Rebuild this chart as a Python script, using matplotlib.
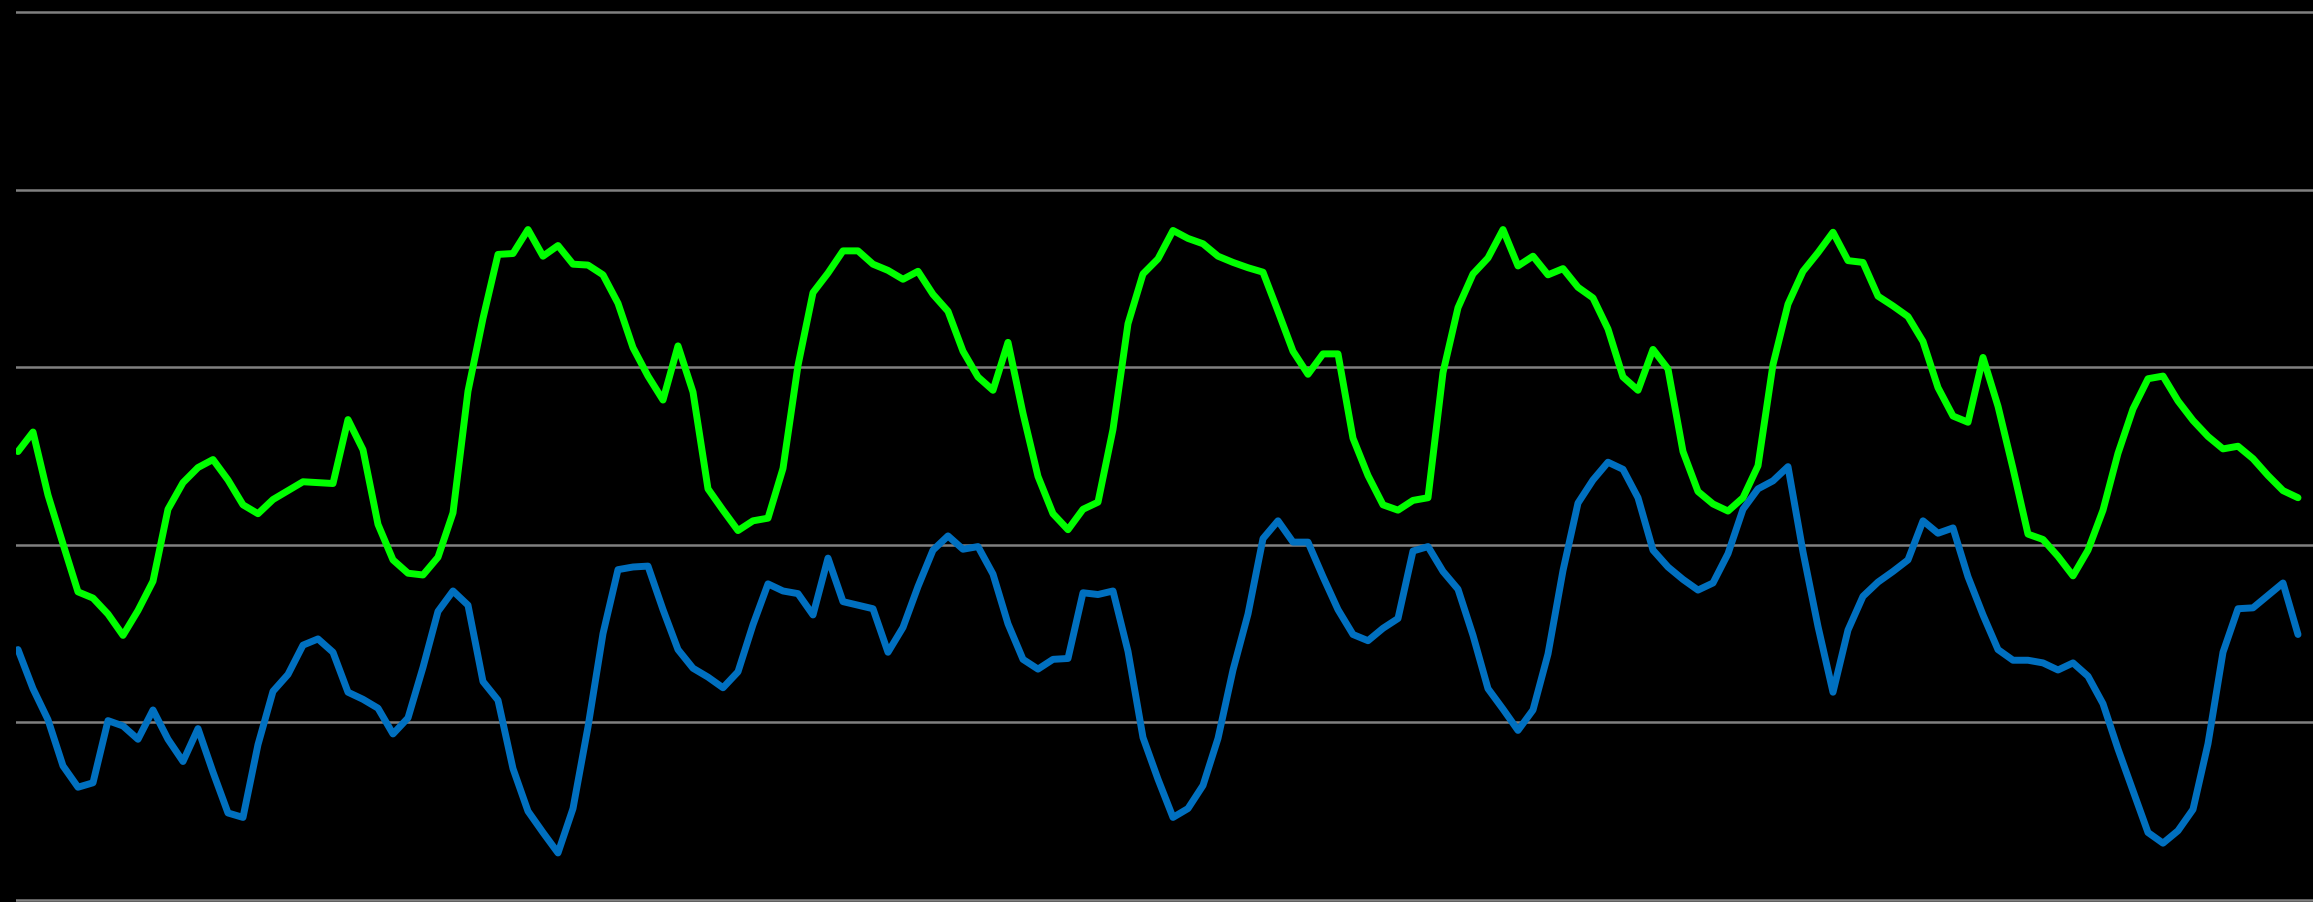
import matplotlib
matplotlib.use("Agg")
import matplotlib.pyplot as plt
import numpy as np

# sample index (one reading every ~15 px of the original)
green = [50.5, 52.7, 45.6, 40.1, 34.7, 34.0, 32.2, 29.8, 32.6, 35.9,
         44.0, 47.0, 48.7, 49.6, 47.3, 44.5, 43.5, 45.1, 46.1, 47.1,
         47.0, 46.9, 54.1, 50.7, 42.3, 38.3, 36.8, 36.6, 38.6, 43.6,
         57.3, 65.5, 72.7, 72.8, 75.5, 72.5, 73.7, 71.6, 71.5, 70.4,
         67.2, 62.2, 59.0, 56.3, 62.4, 57.2, 46.3, 43.9, 41.6, 42.7,
         43.0, 48.6, 60.2, 68.4, 70.6, 73.1, 73.1, 71.6, 70.9, 69.9,
         70.8, 68.2, 66.3, 61.8, 58.9, 57.4, 62.8, 54.8, 47.7, 43.5,
         41.7, 44.0, 44.8, 53.0, 64.9, 70.5, 72.2, 75.4, 74.5, 73.9,
         72.5, 71.8, 71.2, 70.7, 66.3, 61.8, 59.2, 61.5, 61.5, 52.0,
         47.8, 44.5, 43.9, 45.0, 45.3, 59.4, 66.7, 70.5, 72.3, 75.5,
         71.4, 72.5, 70.4, 71.1, 69.0, 67.8, 64.3, 58.9, 57.4, 62.0,
         59.8, 50.5, 46.0, 44.6, 43.8, 45.3, 48.9, 60.3, 67.1, 70.8,
         72.9, 75.2, 72.0, 71.8, 68.0, 66.9, 65.7, 62.9, 57.7, 54.5,
         53.8, 61.1, 55.6, 48.6, 41.2, 40.6, 38.7, 36.5, 39.4, 43.9,
         50.3, 55.3, 58.7, 59.0, 56.2, 54.0, 52.2, 50.8, 51.1, 49.7,
         47.8, 46.1, 45.3]

blue = [28.2, 23.8, 20.3, 15.1, 12.7, 13.2, 20.2, 19.6, 18.1, 21.4,
        18.1, 15.6, 19.3, 14.4, 9.8, 9.3, 17.5, 23.5, 25.4, 28.7,
        29.4, 27.9, 23.4, 22.6, 21.6, 18.7, 20.5, 26.2, 32.5, 34.8,
        33.2, 24.6, 22.5, 14.8, 10.0, 7.6, 5.3, 10.3, 19.5, 30.0,
        37.2, 37.5, 37.6, 32.7, 28.2, 26.1, 25.1, 23.9, 25.7, 31.0,
        35.6, 34.8, 34.5, 32.1, 38.5, 33.6, 33.2, 32.8, 27.9, 30.7,
        35.3, 39.4, 41.0, 39.5, 39.8, 36.7, 31.1, 27.1, 26.0, 27.1,
        27.2, 34.6, 34.4, 34.8, 28.0, 18.3, 13.6, 9.3, 10.3, 12.9,
        18.2, 25.9, 32.2, 40.7, 42.7, 40.3, 40.3, 36.4, 32.7, 29.9,
        29.2, 30.6, 31.7, 39.3, 39.8, 37.0, 35.0, 29.8, 23.8, 21.5,
        19.1, 21.4, 27.7, 37.1, 44.7, 47.3, 49.3, 48.5, 45.3, 39.4,
        37.5, 36.1, 34.9, 35.7, 39.0, 44.0, 46.3, 47.2, 48.8, 39.2,
        30.8, 23.4, 30.4, 34.2, 35.8, 37.0, 38.3, 42.7, 41.3, 41.9,
        36.4, 32.1, 28.2, 27.0, 27.0, 26.7, 25.9, 26.7, 25.2, 22.1,
        17.0, 12.3, 7.6, 6.4, 7.8, 10.2, 17.6, 27.9, 32.8, 32.9,
        34.3, 35.7, 29.9]

x = np.arange(len(green))
y_ticks = [0, 20, 40, 60, 80, 100]

W, H = 2313, 902
fig = plt.figure(figsize=(W / 100, H / 100), dpi=100, facecolor="black")
ax = fig.add_axes([16 / W, 0, 1 - 16 / W, 1], facecolor="black")

# gridlines
for t in y_ticks:
    ax.axhline(t, color="#808080", lw=1.8, zorder=1)

ax.plot(x, green, color="#00ff00", lw=5.0, solid_joinstyle="round",
        solid_capstyle="round", zorder=3)
ax.plot(x, blue, color="#0070c0", lw=5.0, solid_joinstyle="round",
        solid_capstyle="round", zorder=2)

ax.set_xlim(-0.133, 153.0)
ax.set_ylim(-0.225, 101.35)
ax.axis("off")

fig.savefig("out.png", dpi=100, facecolor="black")
